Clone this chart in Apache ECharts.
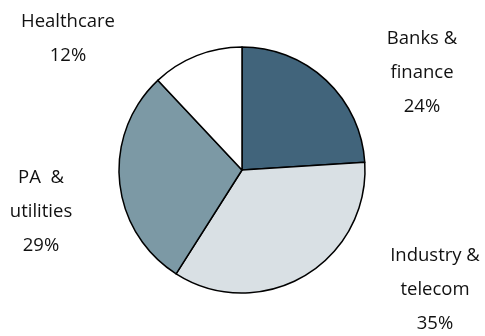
<!DOCTYPE html>
<html>
<head>
<meta charset="utf-8">
<script src="https://cdn.jsdelivr.net/npm/echarts@6/dist/echarts.min.js"></script>
<style>
  html, body { margin: 0; padding: 0; background: #fff; }
  #chart { width: 485px; height: 336px; }
</style>
</head>
<body>
<div id="chart"></div>
<script>
  // sector names and shares (%)
  var sectors = ['Banks &\nfinance', 'Industry &\ntelecom', 'PA  &\nutilities', 'Healthcare'];
  var shares = [24, 35, 29, 12];
  var colors = ['#41647b', '#d9e0e4', '#7c99a5', '#ffffff'];

  // label centres, placed by hand as in the original
  var labelPos = [[422, 73], [435, 290], [41, 212], [68, 39]];

  var chart = echarts.init(document.getElementById('chart'));

  var data = sectors.map(function (name, i) {
    return { name: name, value: shares[i], itemStyle: { color: colors[i] } };
  });

  chart.setOption({
    animation: false,
    series: [
      {
        type: 'pie',
        center: [242, 170],
        radius: 123,
        startAngle: 90,
        clockwise: true,
        data: data,
        itemStyle: { borderColor: '#000', borderWidth: 1.5 },
        label: {
          show: true,
          position: 'outside',
          formatter: function (p) { return p.name + '\n' + p.value + '%'; },
          fontFamily: 'Open Sans',
          fontSize: 18.5,
          lineHeight: 34,
          color: '#111',
          align: 'center',
          overflow: 'none'
        },
        labelLine: { show: false },
        labelLayout: function (p) {
          var pos = labelPos[p.dataIndex];
          return { x: pos[0], y: pos[1], align: 'center', verticalAlign: 'middle' };
        },
        emphasis: { disabled: true }
      }
    ]
  });
</script>
</body>
</html>
